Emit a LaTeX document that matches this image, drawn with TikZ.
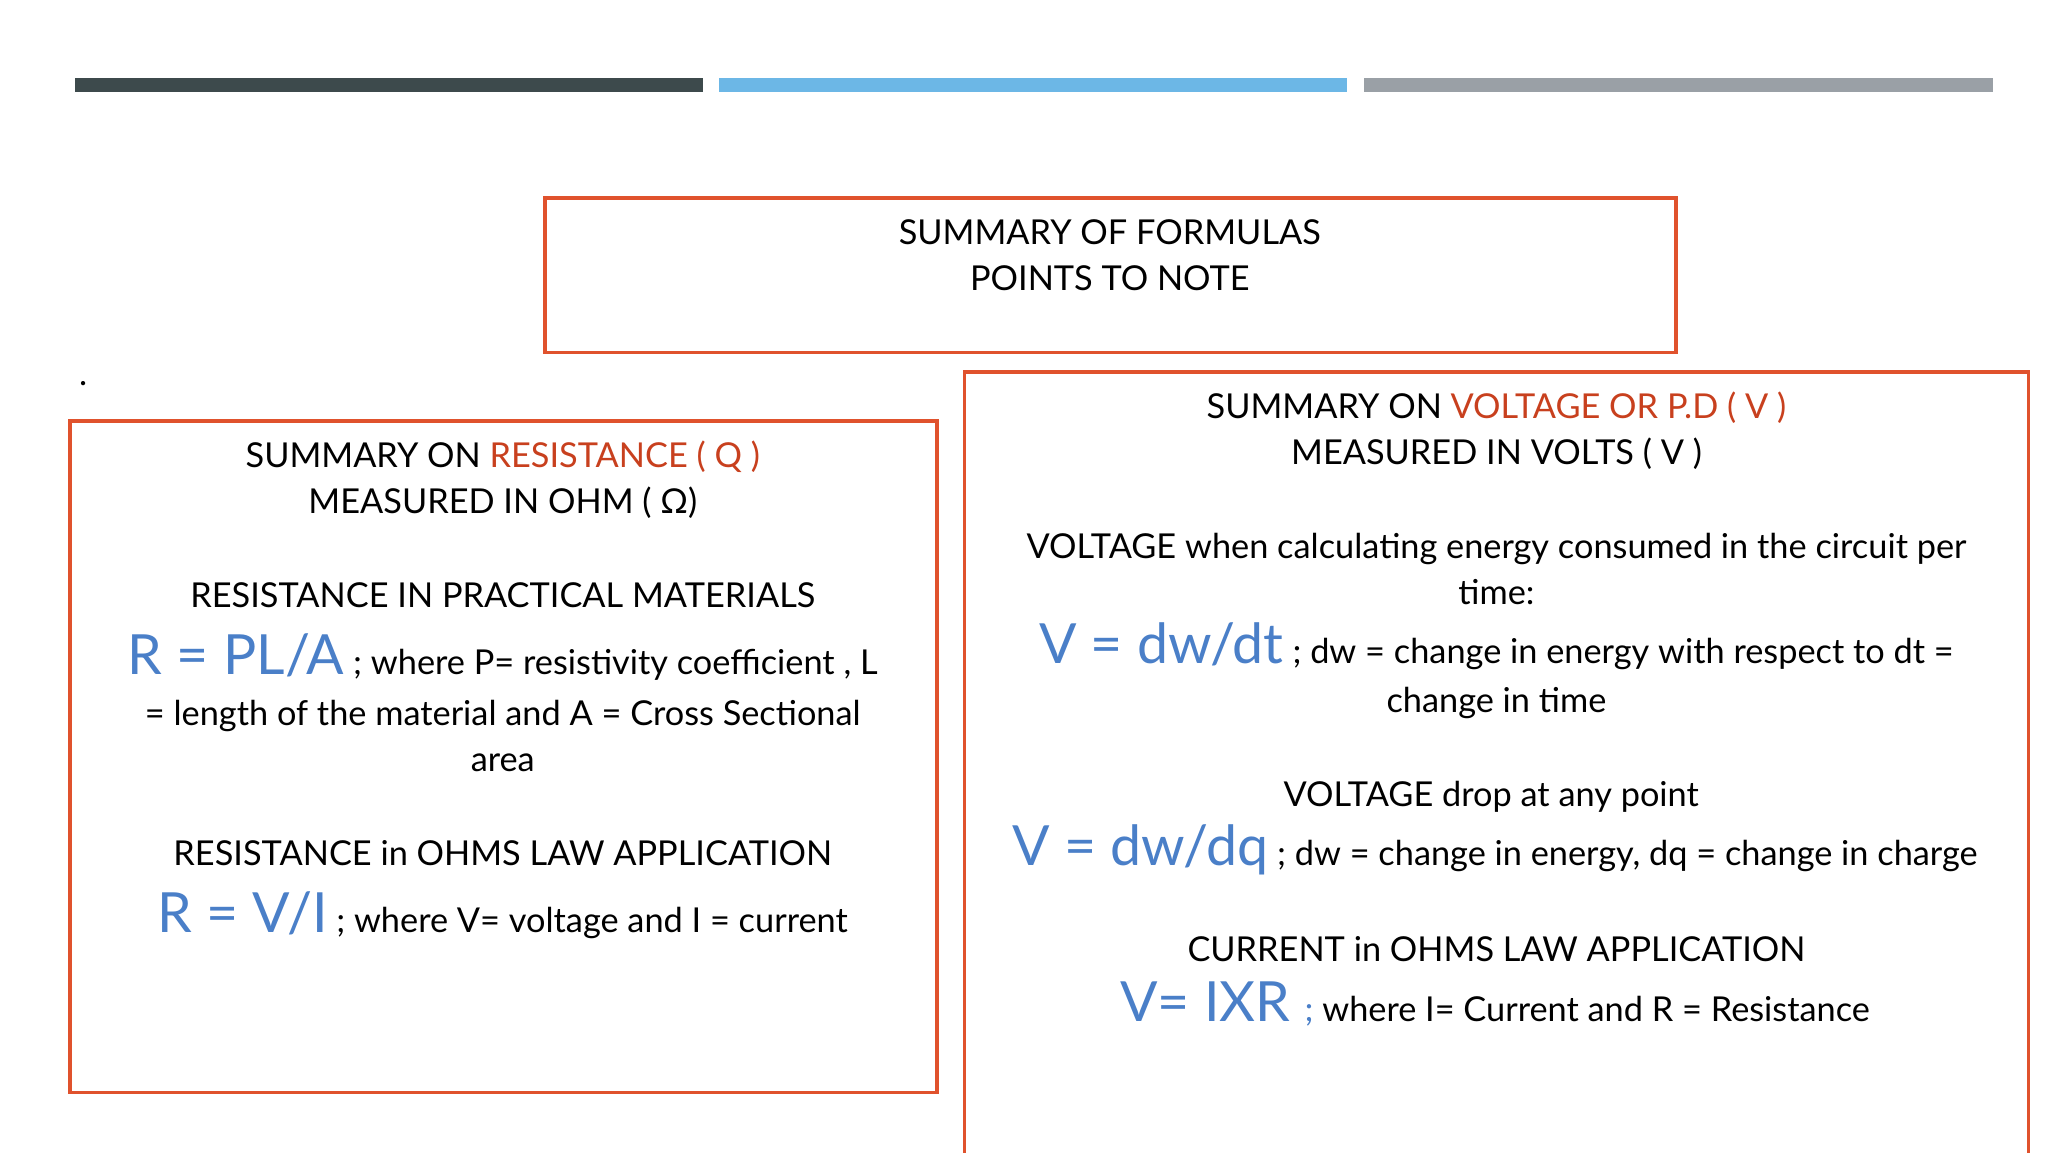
\documentclass[tikz,border=0pt]{standalone}
\usepackage{fontspec}
\setmainfont{Lato}
\definecolor{boxred}{HTML}{E0522D}
\definecolor{txtred}{HTML}{C8401E}
\definecolor{fblue}{HTML}{4A7FC8}
\definecolor{bardark}{HTML}{3D4A4C}
\definecolor{barblue}{HTML}{6CB7E6}
\definecolor{bargray}{HTML}{9AA0A6}
\begin{document}
\begin{tikzpicture}[x=0.5pt,y=-0.5pt,
  box/.style={draw=boxred,line width=1.3pt},
  txt/.style={inner sep=0pt,anchor=base,font=\fontsize{13}{15}\selectfont},
  big/.style={font=\fontsize{21}{24}\selectfont,text=fblue}]
\useasboundingbox (0,0) rectangle (1552,873);
\fill[bardark] (57,59) rectangle (533,70);
\fill[barblue] (545,59) rectangle (1021,70);
\fill[bargray] (1034,59) rectangle (1510,70);
\draw[box] (413,150) rectangle (1270,267);
\node[txt] (t1) at (841,185) {SUMMARY OF FORMULAS};
\node[txt] (t2) at (841,220) {POINTS TO NOTE};
\node[txt] (dot) at (63,292) {.};
\draw[box] (53,319) rectangle (710,828);
\draw[box] (731,282) rectangle (1537,900);
% left
\node[txt] (l1) at (381,354) {SUMMARY ON \textcolor{txtred}{RESISTANCE ( Q )}};
\node[txt] (l2) at (381,389) {MEASURED IN OHM ( Ω)};
\node[txt] (l3) at (381,460) {RESISTANCE IN PRACTICAL MATERIALS};
\node[txt] (l4) at (381,511) {{\fontsize{21}{24}\selectfont\color{fblue}R = PL/A} ; where P= resistivity coefficient , L};
\node[txt] (l5) at (381,550) {= length of the material and A = Cross Sectional};
\node[txt] (l6) at (381,585) {area};
\node[txt] (l7) at (381,656) {RESISTANCE in OHMS LAW APPLICATION};
\node[txt] (l8) at (381,707) {{\fontsize{21}{24}\selectfont\color{fblue}R = V/I} ; where V= voltage and I = current};
% right
\node[txt] (r1) at (1134,317) {SUMMARY ON \textcolor{txtred}{VOLTAGE OR P.D ( V )}};
\node[txt] (r2) at (1134,352) {MEASURED IN VOLTS ( V )};
\node[txt] (r3) at (1134,423) {VOLTAGE when calculating energy consumed in the circuit per};
\node[txt] (r4) at (1134,458) {time:};
\node[txt] (r5) at (1134,503) {{\fontsize{21}{24}\selectfont\color{fblue}V = dw/dt} ; dw = change in energy with respect to dt =};
\node[txt] (r6) at (1134,540) {change in time};
\node[txt] (r7) at (1130,611) {VOLTAGE drop at any point};
\node[txt] (r8) at (1133,656) {{\fontsize{21}{24}\selectfont\color{fblue}V = dw/dq} ; dw = change in energy, dq = change in charge};
\node[txt] (r9) at (1134,729) {CURRENT in OHMS LAW APPLICATION};
\node[txt] (r10) at (1133,774) {{\fontsize{21}{24}\selectfont\color{fblue}V= IXR \fontsize{13}{15}\selectfont;} where I= Current and R = Resistance};
\end{tikzpicture}
\end{document}
